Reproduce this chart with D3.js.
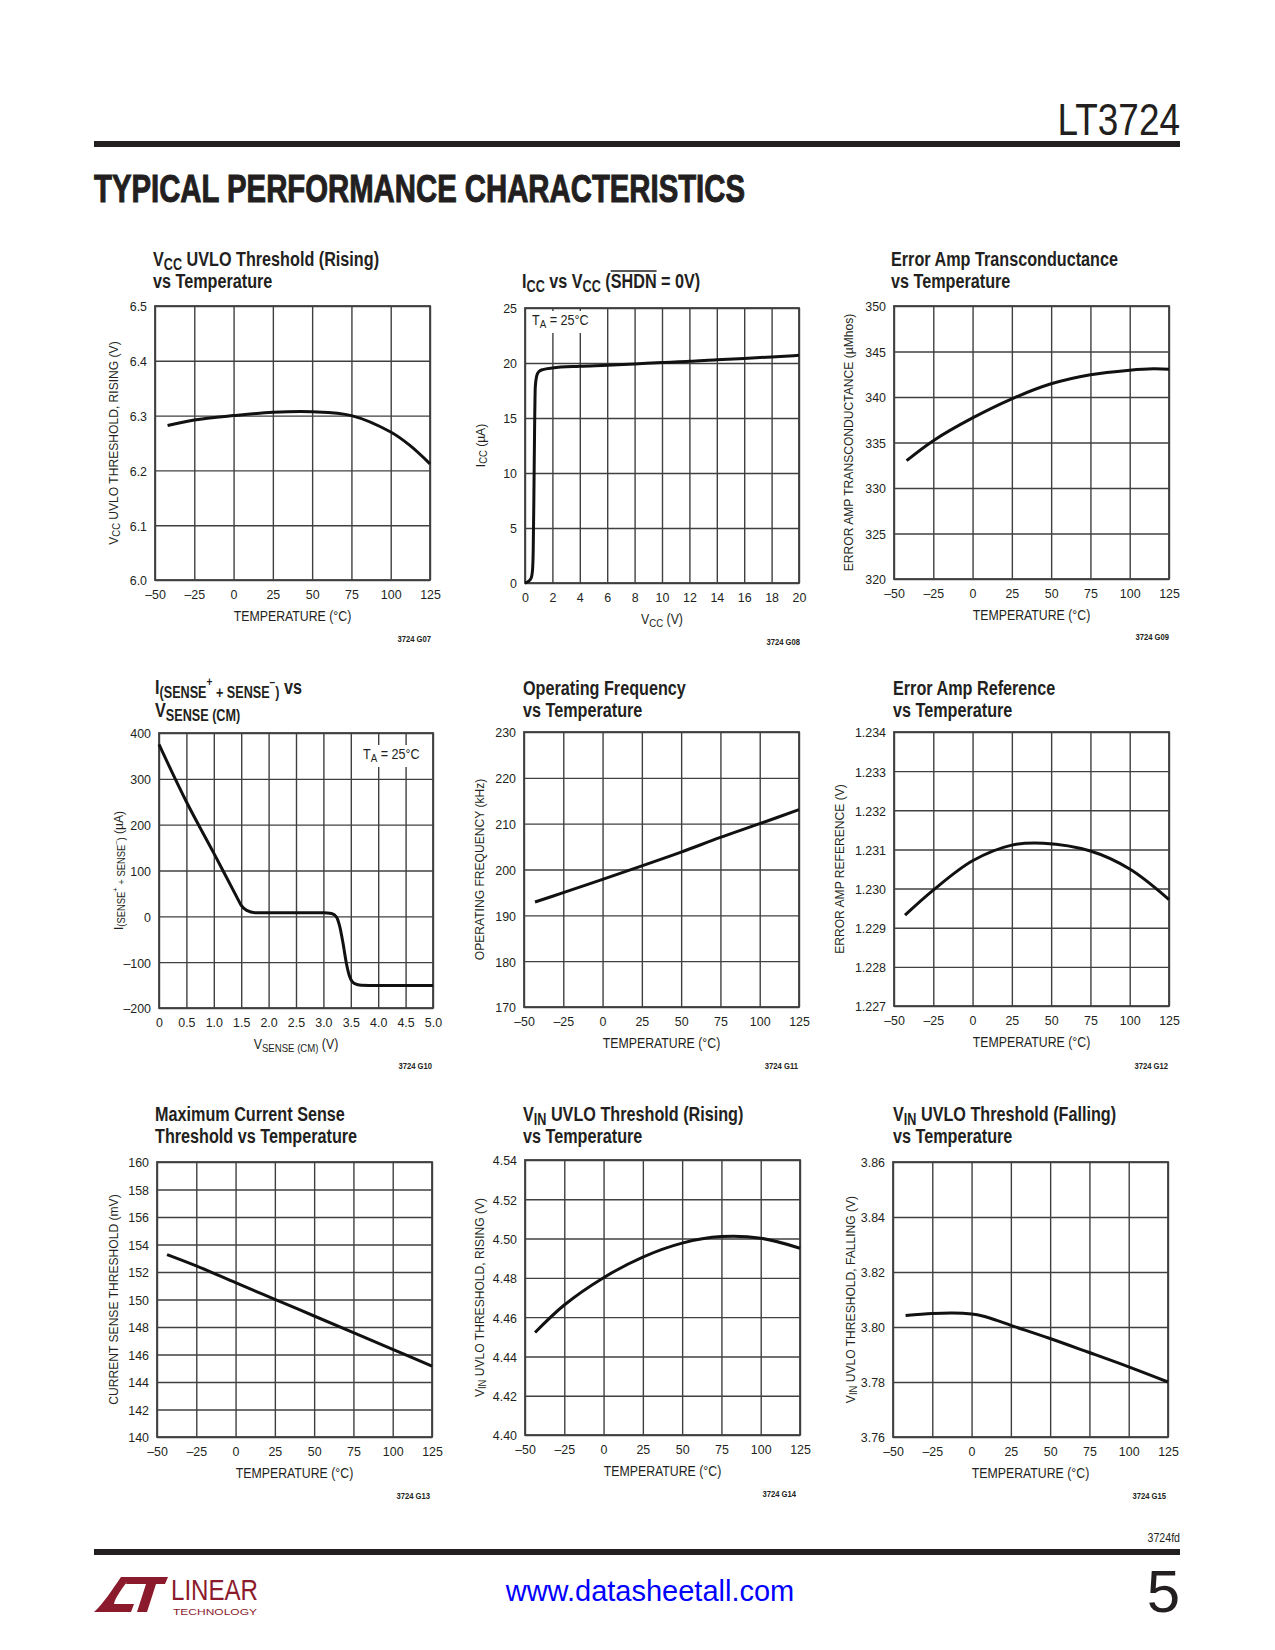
<!DOCTYPE html>
<html><head><meta charset="utf-8">
<script src="https://cdn.jsdelivr.net/npm/d3@7"></script>
<style>
html,body{margin:0;padding:0;background:#fff;}
svg{display:block;}
</style></head><body>
<svg id="page" width="1275" height="1650"></svg>
<script>
// ---------------- DATA ----------------
const tempTicks = [-50,-25,0,25,50,75,100,125];
const tempTickLabels = ["–50","–25","0","25","50","75","100","125"];

// G07 VCC UVLO threshold (rising) vs temperature
const g07Temp = [-42,-25,0,25,50,75,100,112,125];
const g07Volts = [6.282,6.292,6.300,6.306,6.307,6.300,6.270,6.246,6.212];
const g07YTicks = [6.0,6.1,6.2,6.3,6.4,6.5];
const g07YLabels = ["6.0","6.1","6.2","6.3","6.4","6.5"];

// G08 ICC vs VCC
const g08Vcc = [0,0.25,0.45,0.55,0.6,0.65,0.7,0.75,0.85,1.0,1.3,2,4,6,8,10,12,14,16,18,20];
const g08Icc = [0,0.15,0.45,1.2,3,8,14,17.8,18.8,19.2,19.4,19.55,19.7,19.8,19.92,20.05,20.15,20.3,20.42,20.55,20.7];
const g08XTicks = [0,2,4,6,8,10,12,14,16,18,20];
const g08XLabels = ["0","2","4","6","8","10","12","14","16","18","20"];
const g08YTicks = [0,5,10,15,20,25];
const g08YLabels = ["0","5","10","15","20","25"];

// G09 Error amp transconductance vs temperature
const g09Temp = [-42,-25,0,25,50,75,100,115,125];
const g09Gm = [333.0,335.2,337.7,339.8,341.45,342.45,342.95,343.1,343.05];
const g09YTicks = [320,325,330,335,340,345,350];
const g09YLabels = ["320","325","330","335","340","345","350"];

// G10 I(SENSE+ + SENSE-) vs VSENSE(CM)
const g10V = [0,0.5,1.0,1.42,1.5,1.6,1.75,2.0,3.0,3.15,3.24,3.3,3.36,3.42,3.48,3.57,3.69,4.0,5.0];
const g10I = [375,250,138,42,24,13,8,8,8,6,-1.5,-23,-60,-103,-132,-147,-150.5,-151,-151];
const g10XTicks = [0,0.5,1,1.5,2,2.5,3,3.5,4,4.5,5];
const g10XLabels = ["0","0.5","1.0","1.5","2.0","2.5","3.0","3.5","4.0","4.5","5.0"];
const g10YTicks = [-200,-100,0,100,200,300,400];
const g10YLabels = ["–200","–100","0","100","200","300","400"];

// G11 Operating frequency vs temperature
const g11Temp = [-43,-25,0,25,50,75,100,125];
const g11Freq = [192.9,194.95,197.85,200.8,203.8,207.0,210.0,213.05];
const g11YTicks = [170,180,190,200,210,220,230];
const g11YLabels = ["170","180","190","200","210","220","230"];

// G12 Error amp reference vs temperature
const g12Temp = [-43,-25,0,25,45,75,100,125];
const g12Ref = [1.22932,1.22996,1.23071,1.23111,1.23116,1.23096,1.23050,1.22972];
const g12YTicks = [1.227,1.228,1.229,1.230,1.231,1.232,1.233,1.234];
const g12YLabels = ["1.227","1.228","1.229","1.230","1.231","1.232","1.233","1.234"];

// G13 Maximum current sense threshold vs temperature
const g13Temp = [-43.6,-25,0,25,50,75,100,125];
const g13Thr = [153.26,152.44,151.22,150.01,148.8,147.59,146.38,145.16];
const g13YTicks = [140,142,144,146,148,150,152,154,156,158,160];
const g13YLabels = ["140","142","144","146","148","150","152","154","156","158","160"];

// G14 VIN UVLO threshold (rising) vs temperature
const g14Temp = [-43.6,-25,0,25,50,75,100,125];
const g14Volts = [4.4522,4.4662,4.4801,4.4906,4.4977,4.5010,4.5002,4.4951];
const g14YTicks = [4.40,4.42,4.44,4.46,4.48,4.50,4.52,4.54];
const g14YLabels = ["4.40","4.42","4.44","4.46","4.48","4.50","4.52","4.54"];

// G15 VIN UVLO threshold (falling) vs temperature
const g15Temp = [-42,-25,-12,0,7,16,25,49,74,100,125];
const g15Volts = [3.8042,3.8049,3.8051,3.8047,3.8040,3.8024,3.8006,3.7960,3.7909,3.7855,3.7800];
const g15YTicks = [3.76,3.78,3.80,3.82,3.84,3.86];
const g15YLabels = ["3.76","3.78","3.80","3.82","3.84","3.86"];

// ---------------- LAYOUT ----------------
const SANS = '"Liberation Sans",Arial,Helvetica,sans-serif';
const INK = "#231f20";
const svg = d3.select("#page");

const charts = [
 {x0:155,x1:430,y0:306,y1:580, xd:[-50,125], yd:[6.0,6.5], xt:tempTicks, xl:tempTickLabels, yt:g07YTicks, yl:g07YLabels,
  xs:g07Temp, ys:g07Volts, tx:153, tb:[266,288], curve:"cr",
  title:[[["V"],["CC","sub"],[" UVLO Threshold (Rising)"]],[["vs Temperature"]]],
  ytitle:[["V"],["CC","sub"],[" UVLO THRESHOLD, RISING (V)"]], ytx:113,
  xtitle:[["TEMPERATURE (°C)"]], code:"3724 G07", cx:431, cy:642},
 {x0:525,x1:799,y0:308,y1:583, xd:[0,20], yd:[0,25], xt:g08XTicks, xl:g08XLabels, yt:g08YTicks, yl:g08YLabels,
  xs:g08Vcc, ys:g08Icc, tx:522, tb:[288], curve:"mono",
  title:[[["I"],["CC","sub"],[" vs V"],["CC","sub"],[" ("],["SHDN","over"],[" = 0V)"]]],
  ytitle:[["I"],["CC","sub"],[" (µA)"]], ytx:480,
  xtitle:[["V"],["CC","sub"],[" (V)"]], code:"3724 G08", cx:800, cy:645,
  note:{x:532,y:325}},
 {x0:894,x1:1169,y0:306,y1:579, xd:[-50,125], yd:[320,350], xt:tempTicks, xl:tempTickLabels, yt:g09YTicks, yl:g09YLabels,
  xs:g09Temp, ys:g09Gm, tx:891, tb:[266,288], curve:"cr",
  title:[[["Error Amp Transconductance"]],[["vs Temperature"]]],
  ytitle:[["ERROR AMP TRANSCONDUCTANCE (µMhos)"]], ytx:848,
  xtitle:[["TEMPERATURE (°C)"]], code:"3724 G09", cx:1169, cy:640},
 {x0:159,x1:433,y0:733,y1:1008, xd:[0,5], yd:[-200,400], xt:g10XTicks, xl:g10XLabels, yt:g10YTicks, yl:g10YLabels,
  xs:g10V, ys:g10I, tx:155, tb:[694,717], curve:"mono",
  title:[[["I"],["(SENSE","sub"],["+","sup"],[" + SENSE","sub"],["–","sup"],[")","sub"],[" vs"]],[["V"],["SENSE (CM)","sub"]]],
  ytitle:[["I"],["(SENSE","sub"],["+","sup"],[" + SENSE","sub"],["–","sup"],[")","sub"],[" (µA)"]], ytx:118,
  xtitle:[["V"],["SENSE (CM)","sub"],[" (V)"]], code:"3724 G10", cx:432, cy:1069,
  note:{x:363,y:759}},
 {x0:524,x1:799,y0:732,y1:1007, xd:[-50,125], yd:[170,230], xt:tempTicks, xl:tempTickLabels, yt:g11YTicks, yl:g11YLabels,
  xs:g11Temp, ys:g11Freq, tx:523, tb:[695,717], curve:"cr",
  title:[[["Operating Frequency"]],[["vs Temperature"]]],
  ytitle:[["OPERATING FREQUENCY (kHz)"]], ytx:479,
  xtitle:[["TEMPERATURE (°C)"]], code:"3724 G11", cx:798, cy:1069},
 {x0:894,x1:1169,y0:732,y1:1006, xd:[-50,125], yd:[1.227,1.234], xt:tempTicks, xl:tempTickLabels, yt:g12YTicks, yl:g12YLabels,
  xs:g12Temp, ys:g12Ref, tx:893, tb:[695,717], curve:"cr",
  title:[[["Error Amp Reference"]],[["vs Temperature"]]],
  ytitle:[["ERROR AMP REFERENCE (V)"]], ytx:839,
  xtitle:[["TEMPERATURE (°C)"]], code:"3724 G12", cx:1168, cy:1069},
 {x0:157,x1:432,y0:1162,y1:1437, xd:[-50,125], yd:[140,160], xt:tempTicks, xl:tempTickLabels, yt:g13YTicks, yl:g13YLabels,
  xs:g13Temp, ys:g13Thr, tx:155, tb:[1121,1143], curve:"cr",
  title:[[["Maximum Current Sense"]],[["Threshold vs Temperature"]]],
  ytitle:[["CURRENT SENSE THRESHOLD (mV)"]], ytx:113,
  xtitle:[["TEMPERATURE (°C)"]], code:"3724 G13", cx:430, cy:1499},
 {x0:525,x1:800,y0:1160,y1:1435, xd:[-50,125], yd:[4.40,4.54], xt:tempTicks, xl:tempTickLabels, yt:g14YTicks, yl:g14YLabels,
  xs:g14Temp, ys:g14Volts, tx:523, tb:[1121,1143], curve:"cr",
  title:[[["V"],["IN","sub"],[" UVLO Threshold (Rising)"]],[["vs Temperature"]]],
  ytitle:[["V"],["IN","sub"],[" UVLO THRESHOLD, RISING (V)"]], ytx:479,
  xtitle:[["TEMPERATURE (°C)"]], code:"3724 G14", cx:796, cy:1497},
 {x0:893,x1:1168,y0:1162,y1:1437, xd:[-50,125], yd:[3.76,3.86], xt:tempTicks, xl:tempTickLabels, yt:g15YTicks, yl:g15YLabels,
  xs:g15Temp, ys:g15Volts, tx:893, tb:[1121,1143], curve:"cr",
  title:[[["V"],["IN","sub"],[" UVLO Threshold (Falling)"]],[["vs Temperature"]]],
  ytitle:[["V"],["IN","sub"],[" UVLO THRESHOLD, FALLING (V)"]], ytx:850,
  xtitle:[["TEMPERATURE (°C)"]], code:"3724 G15", cx:1166, cy:1499}
];

// rich text helper: segments [text, kind]; returns overline requests
function rich(textSel, segs, size){
  let cur = 0;
  const overs = [];
  segs.forEach(([t,kind])=>{
    let off = 0, fs = size;
    if(kind==="sub"){ off = size*0.2; fs = size*0.78; }
    else if(kind==="sup"){ off = -size*0.38; fs = size*0.62; }
    const ts = textSel.append("tspan").text(t).attr("font-size", fs);
    if(off-cur !== 0) ts.attr("dy", off-cur);
    if(kind==="over") overs.push(ts);
    cur = off;
  });
  return overs;
}

// scaled text group
function stext(parent, tx, ty, sx, rot){
  const g = parent.append("g").attr("transform",`translate(${tx},${ty})${rot?` rotate(${rot})`:""} scale(${sx},1)`);
  return {g, t: g.append("text").attr("x",0).attr("y",0)};
}

function drawChart(c){
  const g = svg.append("g");
  const x = d3.scaleLinear().domain(c.xd).range([c.x0,c.x1]);
  const y = d3.scaleLinear().domain(c.yd).range([c.y1,c.y0]);
  const w = c.x1-c.x0, h = c.y1-c.y0;
  const TS = 0.92;

  // grid via axes
  const gx = g.append("g").attr("transform",`translate(0,${c.y1})`)
    .call(d3.axisBottom(x).tickValues(c.xt).tickFormat((d,i)=>c.xl[i]).tickSize(-h).tickPadding(0));
  const gy = g.append("g").attr("transform",`translate(${c.x0},0)`)
    .call(d3.axisLeft(y).tickValues(c.yt).tickFormat((d,i)=>c.yl[i]).tickSize(-w).tickPadding(0));
  [gx,gy].forEach(a=>{
    a.select(".domain").remove();
    a.attr("font-family",SANS).attr("font-size",13.5);
    a.selectAll(".tick line").attr("stroke","#404040").attr("stroke-width",1.4);
    a.selectAll("text").attr("fill",INK).attr("transform",`scale(${TS},1)`);
  });
  gx.selectAll("text").attr("y",19.5).attr("dy",null);
  gy.selectAll("text").attr("x",-8/TS).attr("dy","0.36em");

  // frame
  g.append("rect").attr("x",c.x0).attr("y",c.y0).attr("width",w).attr("height",h)
    .attr("fill","none").attr("stroke","#404040").attr("stroke-width",1.8);

  // note
  if(c.note){
    g.append("rect").attr("x",c.note.x-3).attr("y",c.note.y-14).attr("width",62).attr("height",22).attr("fill","#fff");
    const n = stext(g, c.note.x, c.note.y, 0.9);
    n.t.attr("font-family",SANS).attr("fill",INK);
    rich(n.t, [["T"],["A","sub"],[" = 25°C"]], 14);
  }

  // curve
  const pts = c.xs.map((v,i)=>[v,c.ys[i]]);
  const cv = c.curve==="mono" ? d3.curveMonotoneX : d3.curveCatmullRom.alpha(0.5);
  g.append("path").datum(pts)
    .attr("d", d3.line().x(d=>x(d[0])).y(d=>y(d[1])).curve(cv))
    .attr("fill","none").attr("stroke","#111").attr("stroke-width",3);

  // title
  c.title.forEach((line,i)=>{
    const s = stext(g, c.tx, c.tb[i], 0.81);
    s.t.attr("font-family",SANS).attr("font-weight","bold").attr("fill",INK);
    const overs = rich(s.t, line, 20);
    overs.forEach(ts=>{
      const node = ts.node();
      const n = node.getNumberOfChars();
      const a = node.getStartPositionOfChar(0).x;
      const b = node.getEndPositionOfChar(n-1).x;
      s.g.append("line").attr("x1",a).attr("x2",b).attr("y1",-17).attr("y2",-17)
        .attr("stroke",INK).attr("stroke-width",1.6);
    });
  });
  // x title
  const xt = stext(g, (c.x0+c.x1)/2, c.y1+41, 0.88);
  xt.t.attr("text-anchor","middle").attr("font-family",SANS).attr("fill",INK);
  rich(xt.t, c.xtitle, 14);
  // y title
  const yt = stext(g, c.ytx+4.5, (c.y0+c.y1)/2, 0.93, -90);
  yt.t.attr("text-anchor","middle").attr("font-family",SANS).attr("fill",INK);
  rich(yt.t, c.ytitle, 13);
  // code
  const cd = stext(g, c.cx, c.cy, 0.85);
  cd.t.attr("text-anchor","end").attr("font-family",SANS)
    .attr("font-weight","bold").attr("font-size",9).attr("fill",INK).text(c.code);
}

// ---------------- PAGE ----------------
svg.append("rect").attr("width",1275).attr("height",1650).attr("fill","#fff");
const hdr = stext(svg, 1180, 135, 0.84);
hdr.t.attr("text-anchor","end").attr("font-family",SANS).attr("font-size",44).attr("fill",INK).text("LT3724");
svg.append("rect").attr("x",94).attr("y",141).attr("width",1086).attr("height",6).attr("fill",INK);
svg.append("text").attr("x",94).attr("y",202).attr("font-family",SANS).attr("font-weight","bold")
  .attr("font-size",39).attr("fill",INK).attr("textLength",651).attr("lengthAdjust","spacingAndGlyphs")
  .attr("stroke",INK).attr("stroke-width",1)
  .text("TYPICAL PERFORMANCE CHARACTERISTICS");

charts.forEach(drawChart);

const fd = stext(svg, 1180, 1542, 0.85);
fd.t.attr("text-anchor","end").attr("font-family",SANS).attr("font-size",12.5).attr("fill",INK).text("3724fd");
svg.append("rect").attr("x",94).attr("y",1549).attr("width",1086).attr("height",6).attr("fill",INK);

// logo
const RED = "#8b1a2c";
svg.append("path").attr("fill",RED)
  .attr("d","M121,1577 L131,1577 C122,1588 115,1598 114,1604 L134,1604 L131,1612 L94,1612 C103,1604 112,1590 121,1577 Z");
svg.append("path").attr("fill",RED)
  .attr("d","M128,1577 L168,1577 L165,1584 L156,1584 L147,1612 L137,1612 L146,1584 L126,1584 Z");
svg.append("text").attr("x",171).attr("y",1600).attr("font-family",SANS).attr("font-size",30)
  .attr("fill",RED).attr("textLength",87).attr("lengthAdjust","spacingAndGlyphs").text("LINEAR");
svg.append("text").attr("x",173).attr("y",1615).attr("font-family",SANS).attr("font-size",9.5)
  .attr("fill",RED).attr("textLength",84).attr("lengthAdjust","spacingAndGlyphs").text("TECHNOLOGY");

svg.append("text").attr("x",650).attr("y",1601).attr("text-anchor","middle")
  .attr("font-family",SANS).attr("font-size",29).attr("fill","#0000ff")
  .text("www.datasheetall.com");
svg.append("text").attr("x",1180).attr("y",1612).attr("text-anchor","end").attr("font-family",SANS)
  .attr("font-size",60).attr("fill",INK).text("5");
</script>
</body></html>
